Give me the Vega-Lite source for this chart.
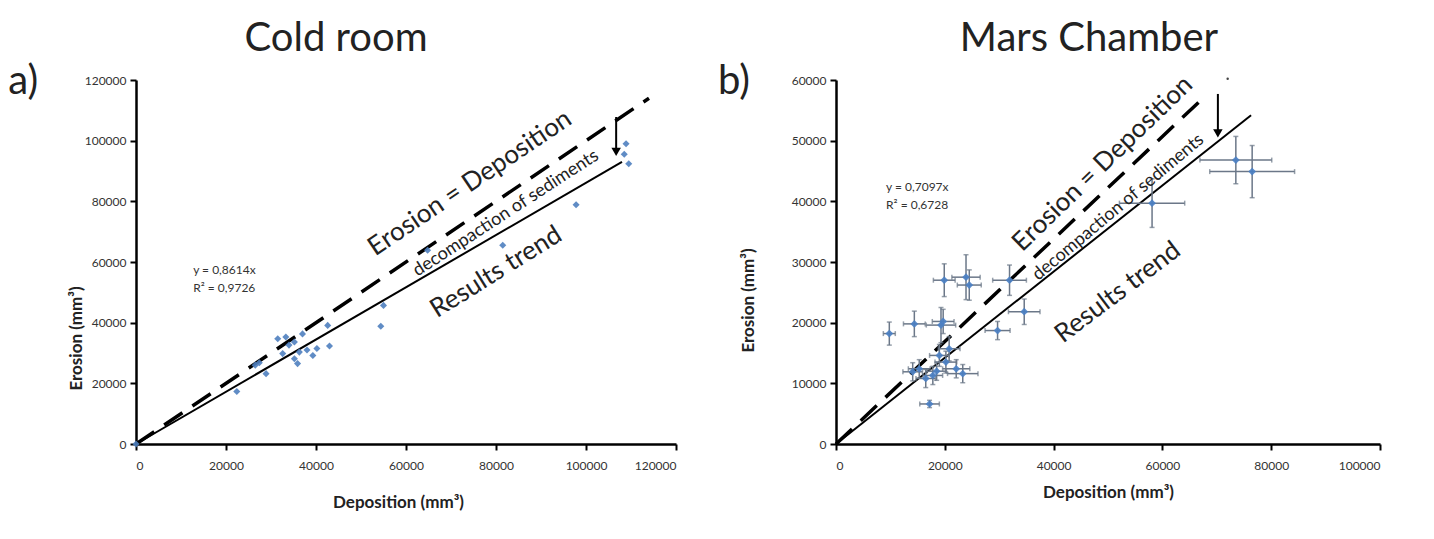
{
  "$schema": "https://vega.github.io/schema/vega-lite/v6.json",
  "background": "white",
  "padding": {"left": 8, "top": 18, "right": 5, "bottom": 5},
  "bounds": "flush",
  "spacing": 160,
  "config": {
    "view": {"stroke": null},
    "font": "Lato",
    "axis": {"domainColor": "black", "domainWidth": 2.5, "tickColor": "black", "tickWidth": 2, "tickSize": 6, "grid": false, "labelFont": "Lato", "labelFontSize": 12, "labelColor": "#333", "titleFont": "Lato", "titleFontSize": 17, "titleFontWeight": "bold", "titleColor": "#222"},
    "title": {"font": "Lato", "fontSize": 40, "fontWeight": "normal", "color": "#222", "baseline": "alphabetic", "offset": 3}
  },
  "hconcat": [
    {
      "width": 540, "height": 364,
      "title": {"text": "Cold room", "dx": -70},
      "encoding": {
        "x": {"field": "x", "type": "quantitative", "scale": {"domain": [0, 120000], "nice": false}, "axis": {"values": [0, 20000, 40000, 60000, 80000, 100000, 120000], "format": "d", "labelPadding": 10, "title": "Deposition (mm³)", "titleY": 58, "titleX": 262, "titleBaseline": "middle"}},
        "y": {"field": "y", "type": "quantitative", "scale": {"domain": [0, 120000], "nice": false}, "axis": {"values": [0, 20000, 40000, 60000, 80000, 100000, 120000], "format": "d", "labelPadding": 4, "title": "Erosion (mm³)", "titleX": -60, "titleY": 258, "titleBaseline": "middle", "titleAlign": "center"}}
      },
      "layer": [
        {"data": {"values": [{"x": 0, "y": 0}, {"x": 114000, "y": 114000}]}, "mark": {"type": "line", "color": "black", "strokeWidth": 3.5, "strokeDash": [22, 12]}},
        {"data": {"values": [{"x": 0, "y": 0}, {"x": 108000, "y": 93000}]}, "mark": {"type": "line", "color": "black", "strokeWidth": 2}},
        {"data": {"values": [{"x": 0, "y": 0}, {"x": 22400, "y": 17300}, {"x": 26500, "y": 26000}, {"x": 27400, "y": 26800}, {"x": 28900, "y": 23200}, {"x": 31500, "y": 34700}, {"x": 32600, "y": 29800}, {"x": 33300, "y": 35300}, {"x": 34000, "y": 32600}, {"x": 35200, "y": 33600}, {"x": 35200, "y": 28100}, {"x": 35900, "y": 26500}, {"x": 36300, "y": 30300}, {"x": 37000, "y": 36300}, {"x": 38000, "y": 31000}, {"x": 39300, "y": 29200}, {"x": 40200, "y": 31500}, {"x": 42600, "y": 39100}, {"x": 43000, "y": 32300}, {"x": 54400, "y": 38800}, {"x": 55000, "y": 45700}, {"x": 64800, "y": 63900}, {"x": 81500, "y": 65500}, {"x": 97800, "y": 78900}, {"x": 108900, "y": 99000}, {"x": 108500, "y": 95500}, {"x": 109500, "y": 92400}]},
         "mark": {"type": "point", "shape": "diamond", "filled": true, "size": 50, "color": "#4f7fbf", "opacity": 0.9}},
        {"data": {"values": [{"x": 106700, "y": 107800, "y2": 96000}]}, "mark": {"type": "rule", "color": "black", "strokeWidth": 2}, "encoding": {"y2": {"field": "y2"}}},
        {"data": {"values": [{"x": 106700, "y": 96300}]}, "mark": {"type": "point", "shape": "triangle-down", "filled": true, "size": 90, "color": "black", "opacity": 1}},
        {"data": {"values": [{"x": -28400, "y": 119300, "label": "a)"}]}, "mark": {"type": "text", "align": "left", "baseline": "middle", "fontSize": 40, "color": "#222"}, "encoding": {"text": {"field": "label"}}},
        {"data": {"values": [{"x": 74200, "y": 86000, "label": "Erosion = Deposition"}]}, "mark": {"type": "text", "align": "center", "baseline": "middle", "fontSize": 26, "angle": -34, "color": "#222"}, "encoding": {"text": {"field": "label"}}},
        {"data": {"values": [{"x": 82200, "y": 76000, "label": "decompaction of sediments"}]}, "mark": {"type": "text", "align": "center", "baseline": "middle", "fontSize": 18, "angle": -33, "color": "#222"}, "encoding": {"text": {"field": "label"}}},
        {"data": {"values": [{"x": 80000, "y": 56700, "label": "Results trend"}]}, "mark": {"type": "text", "align": "center", "baseline": "middle", "fontSize": 26, "angle": -32, "color": "#222"}, "encoding": {"text": {"field": "label"}}},
        {"data": {"values": [{"x": 12700, "y": 57400, "label": "y = 0,8614x"}, {"x": 12700, "y": 51400, "label": "R² = 0,9726"}]}, "mark": {"type": "text", "align": "left", "baseline": "middle", "fontSize": 12, "color": "#333"}, "encoding": {"text": {"field": "label"}}}
      ]
    },
    {
      "width": 544, "height": 364,
      "title": {"text": "Mars Chamber", "dx": -19},
      "encoding": {
        "x": {"field": "x", "type": "quantitative", "scale": {"domain": [0, 100000], "nice": false}, "axis": {"values": [0, 20000, 40000, 60000, 80000, 100000], "format": "d", "labelPadding": 10, "title": "Deposition (mm³)", "titleY": 48, "titleX": 272, "titleBaseline": "middle"}},
        "y": {"field": "y", "type": "quantitative", "scale": {"domain": [0, 60000], "nice": false}, "axis": {"values": [0, 10000, 20000, 30000, 40000, 50000, 60000], "format": "d", "labelPadding": 4, "title": "Erosion (mm³)", "titleX": -88, "titleY": 220, "titleBaseline": "middle", "titleAlign": "center"}}
      },
      "layer": [
        {"data": {"values": [{"x": 0, "y": 0}, {"x": 67000, "y": 56600}]}, "mark": {"type": "line", "color": "black", "strokeWidth": 3.5, "strokeDash": [22, 12]}},
        {"data": {"values": [{"x": 0, "y": 0}, {"x": 76300, "y": 54200}]}, "mark": {"type": "line", "color": "black", "strokeWidth": 2}},
        {"data": {"name": "mars", "values": [
          {"x": 9800, "y": 18200, "xlo": 8700, "xhi": 10900, "ylo": 16300, "yhi": 20100},
          {"x": 14400, "y": 19800, "xlo": 12400, "xhi": 16400, "ylo": 17700, "yhi": 21900},
          {"x": 19300, "y": 19600, "xlo": 16600, "xhi": 22000, "ylo": 16700, "yhi": 22500},
          {"x": 19700, "y": 20200, "xlo": 17700, "xhi": 21700, "ylo": 18200, "yhi": 22200},
          {"x": 19900, "y": 27000, "xlo": 17900, "xhi": 21900, "ylo": 24300, "yhi": 29700},
          {"x": 23900, "y": 27500, "xlo": 21300, "xhi": 26500, "ylo": 23800, "yhi": 31200},
          {"x": 24500, "y": 26200, "xlo": 22300, "xhi": 26700, "ylo": 23700, "yhi": 28700},
          {"x": 31900, "y": 27000, "xlo": 28800, "xhi": 35000, "ylo": 24500, "yhi": 29500},
          {"x": 34600, "y": 21800, "xlo": 31700, "xhi": 37500, "ylo": 19700, "yhi": 23900},
          {"x": 29700, "y": 18700, "xlo": 27400, "xhi": 32000, "ylo": 17200, "yhi": 20200},
          {"x": 17200, "y": 6600, "xlo": 15400, "xhi": 19000, "ylo": 6000, "yhi": 7200},
          {"x": 15300, "y": 12400, "xlo": 13300, "xhi": 17300, "ylo": 10900, "yhi": 13900},
          {"x": 17800, "y": 11300, "xlo": 16000, "xhi": 19600, "ylo": 9800, "yhi": 12800},
          {"x": 20200, "y": 13500, "xlo": 18200, "xhi": 22200, "ylo": 11700, "yhi": 15300},
          {"x": 22100, "y": 12400, "xlo": 19600, "xhi": 24600, "ylo": 10900, "yhi": 13900},
          {"x": 23300, "y": 11600, "xlo": 20500, "xhi": 26100, "ylo": 10100, "yhi": 13100},
          {"x": 19000, "y": 14600, "xlo": 17200, "xhi": 20800, "ylo": 12800, "yhi": 16400},
          {"x": 20800, "y": 15700, "xlo": 18800, "xhi": 22800, "ylo": 13700, "yhi": 17700},
          {"x": 16500, "y": 10800, "xlo": 14700, "xhi": 18300, "ylo": 9300, "yhi": 12300},
          {"x": 14100, "y": 11900, "xlo": 12300, "xhi": 15900, "ylo": 10400, "yhi": 13400},
          {"x": 18500, "y": 12000, "xlo": 16700, "xhi": 20300, "ylo": 10500, "yhi": 13500},
          {"x": 58100, "y": 39700, "xlo": 52100, "xhi": 64100, "ylo": 35700, "yhi": 43700},
          {"x": 73500, "y": 46800, "xlo": 66900, "xhi": 80100, "ylo": 42900, "yhi": 50700},
          {"x": 76500, "y": 44900, "xlo": 68700, "xhi": 84300, "ylo": 40600, "yhi": 49200}
        ]},
         "layer": [
          {"mark": {"type": "errorbar", "color": "#6b7788", "thickness": 1.5, "ticks": true}, "encoding": {"x": {"field": "xlo", "type": "quantitative", "scale": {"domain": [0, 100000], "nice": false}}, "x2": {"field": "xhi"}, "y": {"field": "y", "type": "quantitative", "scale": {"domain": [0, 60000], "nice": false}}}},
          {"mark": {"type": "errorbar", "color": "#6b7788", "thickness": 1.5, "ticks": true}, "encoding": {"y": {"field": "ylo", "type": "quantitative", "scale": {"domain": [0, 60000], "nice": false}}, "y2": {"field": "yhi"}, "x": {"field": "x", "type": "quantitative", "scale": {"domain": [0, 100000], "nice": false}}}},
          {"mark": {"type": "point", "shape": "diamond", "filled": true, "size": 60, "color": "#4a7fc4", "opacity": 0.9}}
         ]},
        {"data": {"values": [{"x": 70200, "y": 57700, "y2": 51000}]}, "mark": {"type": "rule", "color": "black", "strokeWidth": 2}, "encoding": {"y2": {"field": "y2"}}},
        {"data": {"values": [{"x": 70200, "y": 51200}]}, "mark": {"type": "point", "shape": "triangle-down", "filled": true, "size": 90, "color": "black", "opacity": 1}},
        {"data": {"values": [{"x": 72000, "y": 60200}]}, "mark": {"type": "point", "shape": "circle", "filled": true, "size": 6, "color": "#444", "opacity": 1}},
        {"data": {"values": [{"x": -21700, "y": 59700, "label": "b)"}]}, "mark": {"type": "text", "align": "left", "baseline": "middle", "fontSize": 40, "color": "#222"}, "encoding": {"text": {"field": "label"}}},
        {"data": {"values": [{"x": 49000, "y": 46200, "label": "Erosion = Deposition"}]}, "mark": {"type": "text", "align": "center", "baseline": "middle", "fontSize": 26, "angle": -44, "color": "#222"}, "encoding": {"text": {"field": "label"}}},
        {"data": {"values": [{"x": 51900, "y": 39000, "label": "decompaction of sediments"}]}, "mark": {"type": "text", "align": "center", "baseline": "middle", "fontSize": 18, "angle": -40, "color": "#222"}, "encoding": {"text": {"field": "label"}}},
        {"data": {"values": [{"x": 51800, "y": 25000, "label": "Results trend"}]}, "mark": {"type": "text", "align": "center", "baseline": "middle", "fontSize": 26, "angle": -37, "color": "#222"}, "encoding": {"text": {"field": "label"}}},
        {"data": {"values": [{"x": 9200, "y": 42400, "label": "y = 0,7097x"}, {"x": 9200, "y": 39400, "label": "R² = 0,6728"}]}, "mark": {"type": "text", "align": "left", "baseline": "middle", "fontSize": 12, "color": "#333"}, "encoding": {"text": {"field": "label"}}}
      ]
    }
  ]
}
